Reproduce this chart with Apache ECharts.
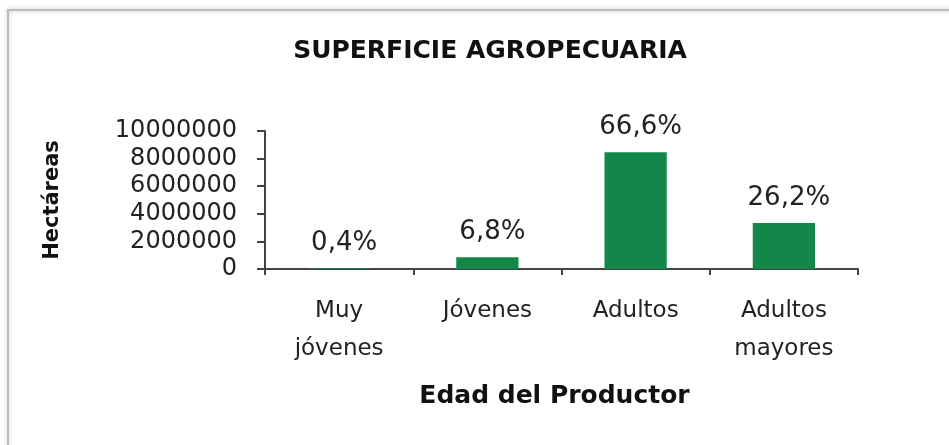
<!DOCTYPE html>
<html><head><meta charset="utf-8">
<script src="https://cdn.jsdelivr.net/npm/echarts@6/dist/echarts.min.js"></script>
<style>html,body{margin:0;padding:0;background:#fff}#c{width:949px;height:445px}</style>
</head><body><div id="c"></div>
<script>
const categories = ['Muy\njóvenes', 'Jóvenes', 'Adultos', 'Adultos\nmayores'];
const hectareas = [50000, 860000, 8460000, 3330000];
const percentLabels = ['0,4%', '6,8%', '66,6%', '26,2%'];
const yTicks = [0, 2000000, 4000000, 6000000, 8000000, 10000000];

const chart = echarts.init(document.getElementById('c'));
const font = '"DejaVu Sans", "Liberation Sans", Arial, sans-serif';
chart.setOption({
  animation: false,
  backgroundColor: '#fff',
  graphic: [
    {type: 'rect', shape: {x: 8, y: 10, width: 960, height: 460},
     style: {fill: 'none', stroke: '#bdbdbd', lineWidth: 2, shadowColor: 'rgba(0,0,0,0.25)', shadowBlur: 4}}
  ],
  title: {
    text: 'SUPERFICIE AGROPECUARIA', left: 485, top: 34, textAlign: 'center',
    textStyle: {fontFamily: font, fontSize: 25, fontWeight: 'bold', color: '#111'}
  },
  grid: {left: 265, right: 91, top: 131, bottom: 176},
  xAxis: {
    type: 'category', data: categories,
    name: 'Edad del Productor', nameLocation: 'middle', nameGap: 115,
    nameTextStyle: {fontFamily: font, fontSize: 25, fontWeight: 'bold', color: '#111', padding: [0, 14, 0, 0]},
    axisLine: {lineStyle: {color: '#444', width: 2}},
    axisTick: {show: true, length: 6, lineStyle: {color: '#444', width: 2}},
    axisLabel: {fontFamily: font, fontSize: 23, color: '#222', margin: 23, lineHeight: 38, interval: 0}
  },
  yAxis: {
    type: 'value', min: yTicks[0], max: yTicks[yTicks.length - 1], interval: 2000000,
    name: 'Hectáreas', nameLocation: 'middle', nameGap: 202, nameRotate: 90,
    nameTextStyle: {fontFamily: font, fontSize: 21, fontWeight: 'bold', color: '#111'},
    axisLine: {show: true, lineStyle: {color: '#444', width: 2}},
    axisTick: {show: true, length: 8, lineStyle: {color: '#444', width: 2}},
    axisLabel: {fontFamily: font, fontSize: 24, color: '#222', margin: 28, formatter: v => String(v)},
    splitLine: {show: false}
  },
  series: [{
    type: 'bar', data: hectareas, barWidth: '42%',
    itemStyle: {color: '#13864a'},
    label: {
      show: true, position: 'top', distance: 12, offset: [5, 0],
      fontFamily: font, fontSize: 26, color: '#222',
      formatter: p => percentLabels[p.dataIndex]
    }
  }]
});
</script></body></html>
